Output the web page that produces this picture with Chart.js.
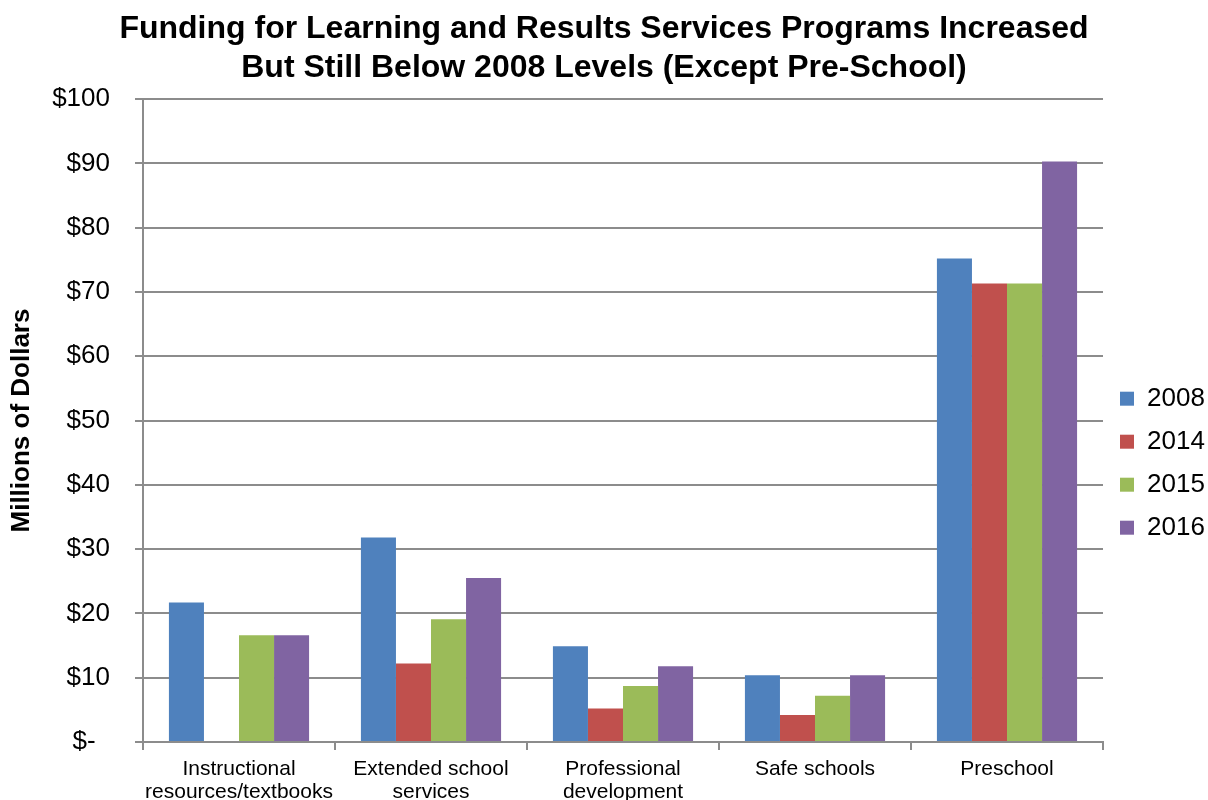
<!DOCTYPE html>
<html>
<head>
<meta charset="utf-8">
<script src="https://cdn.jsdelivr.net/npm/chart.js@4"></script>
<style>
  html, body { margin: 0; padding: 0; background: #fff; overflow: hidden; }
  #wrap { width: 1208px; height: 820px; }
</style>
</head>
<body>
<div id="wrap"><canvas id="fundChart"></canvas></div>
<script>
var categories = [
  ['Instructional', 'resources/textbooks'],
  ['Extended school', 'services'],
  ['Professional', 'development'],
  'Safe schools',
  'Preschool'
];
var years = ['2008', '2014', '2015', '2016'];
var v2008 = [21.7, 31.8, 14.9, 10.4, 75.2];
var v2014 = [0, 12.2, 5.2, 4.2, 71.3];
var v2015 = [16.6, 19.1, 8.7, 7.2, 71.3];
var v2016 = [16.6, 25.5, 11.8, 10.4, 90.3];
var colors = ['#4F81BD', '#C0504D', '#9BBB59', '#8064A2'];

var FONT = "'Liberation Sans', Arial, sans-serif";
Chart.defaults.font.family = FONT;
Chart.defaults.color = '#000';

// keep the legend a fixed width so the plot ends where the original does
var legendWidth = {
  id: 'legendWidth',
  beforeLayout: function (chart) {
    var lg = chart.legend;
    if (lg && !lg._wrapped) {
      var origFit = lg.fit;
      lg.fit = function () {
        origFit.call(this);
        this.width = 105;
      };
      lg._wrapped = true;
    }
  }
};

var allValues = [v2008, v2014, v2015, v2016];
var sets = [];
for (var i = 0; i < years.length; i++) {
  sets.push({
    label: years[i],
    data: allValues[i],
    backgroundColor: colors[i],
    borderWidth: 0
  });
}

var ctx = document.getElementById('fundChart');
var chart = new Chart(ctx, {
  type: 'bar',
  data: { labels: categories, datasets: sets },
  plugins: [legendWidth],
  options: {
    responsive: true,
    maintainAspectRatio: false,
    animation: false,
    layout: { padding: 0 },
    datasets: { bar: { barPercentage: 1, categoryPercentage: 0.73 } },
    plugins: {
      title: {
        display: true,
        text: ['Funding for Learning and Results Services Programs Increased',
               'But Still Below 2008 Levels (Except Pre-School)'],
        font: { size: 32, weight: 'bold', lineHeight: 1.22 },
        color: '#000',
        padding: { top: 10, bottom: 11 }
      },
      legend: {
        position: 'right',
        title: { display: true, text: '', padding: { top: 92, bottom: 0 } },
        labels: {
          boxWidth: 14,
          boxHeight: 14,
          padding: 17,
          font: { size: 26 },
          color: '#000'
        }
      },
      tooltip: { enabled: false }
    },
    scales: {
      x: {
        afterFit: function (scale) { scale.height = 78; },
        grid: {
          offset: true,
          drawOnChartArea: false,
          drawTicks: true,
          tickLength: 8,
          color: '#8c8c8c',
          lineWidth: 2
        },
        border: { color: '#8c8c8c', width: 2 },
        ticks: {
          font: { size: 21, lineHeight: 1.1 },
          color: '#000',
          padding: 8,
          maxRotation: 0,
          autoSkip: false
        }
      },
      y: {
        min: 0,
        max: 100,
        afterFit: function (scale) { scale.width = 143; },
        title: {
          display: true,
          text: 'Millions of Dollars',
          font: { size: 26, weight: 'bold' },
          color: '#000',
          padding: { top: 6, bottom: 0 }
        },
        grid: {
          color: '#8c8c8c',
          lineWidth: 2,
          tickLength: 8
        },
        border: { color: '#8c8c8c', width: 2 },
        ticks: {
          stepSize: 10,
          font: { size: 26 },
          color: '#000',
          padding: 25,
          callback: function (v) { return v === 0 ? '$-  ' : '$' + v; }
        }
      }
    }
  }
});
</script>
</body>
</html>
